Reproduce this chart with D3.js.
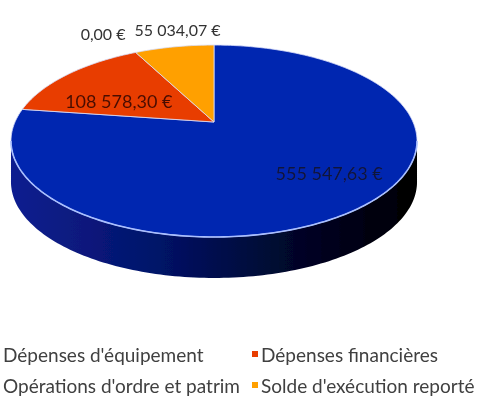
<!DOCTYPE html>
<html>
<head>
<meta charset="utf-8">
<script src="https://cdn.jsdelivr.net/npm/d3@7"></script>
<style>
  body { margin: 0; background: #fff; }
  svg { display: block; font-family: Lato, "Noto Sans", sans-serif; }
</style>
</head>
<body>
<svg width="479" height="401"></svg>
<script>
// Data
const categories = ["Dépenses d'équipement", "Dépenses financières", "Opérations d'ordre et patrim", "Solde d'exécution reporté"];
const values = [555547.63, 108578.30, 0.00, 55034.07];
const valueLabels = ["555 547,63 €", "108 578,30 €", "0,00 €", "55 034,07 €"];
const colors = ["#0628b0", "#e83d00", "#a5a5a5", "#ffa000"];

const width = 479, height = 401;
const svg = d3.select("svg");

// 3D pie geometry (perspective-projected circle)
const cx = 214, cy = 122;      // projected centre of the top face
const A = 199, B = 92.2;       // horizontal / vertical radii
const p = 0.198;               // perspective factor
const depth = 41;              // thickness of the pie

function proj(a, r, dy) {
  const u = r * Math.sin(a), v = r * Math.cos(a), d = 1 + p * v;
  return [cx + A * u / d, cy - B * v / d + (dy || 0)];
}
function arcPoints(a0, a1, r, dy) {
  const n = Math.max(2, Math.ceil((a1 - a0) / 0.02));
  return d3.range(n + 1).map(i => proj(a0 + (a1 - a0) * i / n, r, dy));
}

const pie = d3.pie().value(d => d).sort(null)(values);
const line = d3.line();

const defs = svg.append("defs");
const grad = defs.append("linearGradient").attr("id", "side0")
  .attr("x1", "0%").attr("x2", "100%").attr("y1", "0%").attr("y2", "0%");
grad.append("stop").attr("offset", "0%").attr("stop-color", "#0e1f90");
grad.append("stop").attr("offset", "35%").attr("stop-color", "#03136a");
grad.append("stop").attr("offset", "70%").attr("stop-color", "#000628");
grad.append("stop").attr("offset", "100%").attr("stop-color", "#000000");
defs.append("filter").attr("id", "soft")
  .append("feGaussianBlur").attr("stdDeviation", 0.35);

const root = svg.append("g").attr("filter", "url(#soft)");

// Step 1: side wall (front half only)
const aL = Math.acos(-p), aR = 2 * Math.PI - aL;
const g = root.append("g");
pie.forEach((d, i) => {
  const s = Math.max(d.startAngle, aL), e = Math.min(d.endAngle, aR);
  if (e <= s) return;
  const top = arcPoints(s, e, 1, 0);
  const bot = arcPoints(s, e, 1, depth).reverse();
  g.append("path")
    .attr("d", line(top.concat(bot)) + "Z")
    .attr("fill", i === 0 ? "url(#side0)" : d3.color(colors[i]).darker(1.5));
});

// Step 2: top faces
g.selectAll("path.top")
  .data(pie.filter(d => d.endAngle > d.startAngle))
  .enter()
  .append("path")
  .attr("class", "top")
  .attr("d", d => line([[cx, cy]].concat(arcPoints(d.startAngle, d.endAngle, 1, 0))) + "Z")
  .attr("fill", d => colors[d.index])
  .attr("stroke", "#d8defa")
  .attr("stroke-width", 0.8)
  .attr("stroke-linejoin", "round");

// light rim on the front edge
g.append("path")
  .attr("d", line(arcPoints(aL, aR, 1, 0)))
  .attr("fill", "none")
  .attr("stroke", "#a9bfff")
  .attr("stroke-width", 1.6);

// Step 3: value labels
const mid = d => (d.startAngle + d.endAngle) / 2;
const lbl = root.append("g");

// inside labels
[[0, 0.78, -10], [1, 0.6, 9]].forEach(([i, r, dy]) => {
  const [x, y] = proj(mid(pie[i]), r, dy);
  lbl.append("text")
    .attr("x", x - (i === 1 ? 4 : 0)).attr("y", y)
    .attr("text-anchor", "middle").attr("dominant-baseline", "central")
    .style("font-size", "18px")
    .style("fill", i === 0 ? "#10143a" : "#4a0e00")
    .text(valueLabels[i]);
});

// outside labels (top)
const [ox, oy] = proj(mid(pie[3]), 1.24, 0);
const t3 = lbl.append("text")
  .attr("x", ox + 11).attr("y", oy - 3)
  .attr("text-anchor", "middle").attr("dominant-baseline", "central")
  .style("font-size", "16px").style("fill", "#333")
  .text(valueLabels[3]);
const b3 = t3.node().getBBox();
lbl.append("text")
  .attr("x", b3.x - 9).attr("y", oy + 1)
  .attr("text-anchor", "end").attr("dominant-baseline", "central")
  .style("font-size", "16px").style("fill", "#333")
  .text(valueLabels[2]);

// Step 4: legend (2 columns, row-major like the source)
const legX = [-6, 252], legY = [354, 385];
const leg = root.append("g");
categories.forEach((c, i) => {
  const col = i % 2, row = Math.floor(i / 2);
  leg.append("rect")
    .attr("x", legX[col]).attr("y", legY[row] - 3)
    .attr("width", 6).attr("height", 6)
    .attr("fill", colors[i]);
  leg.append("text")
    .attr("x", col === 0 ? 3 : legX[col] + 9).attr("y", legY[row])
    .attr("dominant-baseline", "central")
    .style("font-size", "19px").style("fill", "#404040")
    .text(c);
});
</script>
</body>
</html>
